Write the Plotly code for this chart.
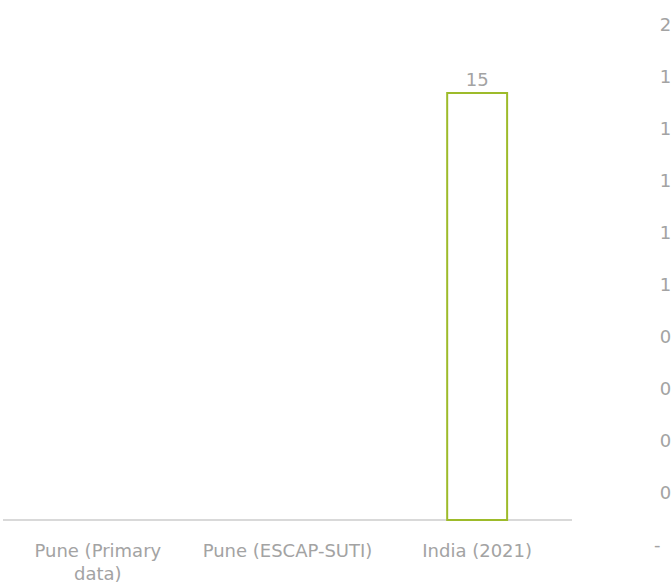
import plotly.graph_objects as go

# Data
categories = ["Pune (Primary<br>data)", "Pune (ESCAP-SUTI)", "India (2021)"]
values = [None, None, 15]
value_labels = ["", "", "15"]

# Secondary (right) axis scale
sec_ticks = [0, 0.2, 0.4, 0.6, 0.8, 1.0, 1.2, 1.4, 1.6, 1.8, 2.0]
sec_ticktext = ["-"] + ["\u00a0" + f"{v:.1f}" for v in sec_ticks[1:]]

FONT = "DejaVu Sans"
GREY = "#a3a3a3"
GREEN = "#9dbb2a"
FS = 18

fig = go.Figure()
fig.add_trace(go.Bar(
    x=categories,
    y=values,
    text=value_labels,
    textposition="outside",
    textfont=dict(family=FONT, size=FS, color=GREY),
    cliponaxis=False,
    marker=dict(color="rgba(255,255,255,0)", line=dict(color=GREEN, width=2)),
    showlegend=False,
))
# invisible trace to carry the right-hand axis
fig.add_trace(go.Scatter(
    x=[categories[0]], y=[0], yaxis="y2", mode="markers",
    marker=dict(opacity=0), showlegend=False, hoverinfo="skip",
))

fig.update_layout(
    width=672, height=584,
    margin=dict(l=3, r=0, t=25, b=39, autoexpand=False),
    paper_bgcolor="white", plot_bgcolor="white",
    bargap=0.684,
    font=dict(family=FONT, size=FS, color=GREY),
    xaxis=dict(
        domain=[0, 0.8505], automargin=False,
        showgrid=False, showline=False, zeroline=False,
        ticks="", ticklabelstandoff=-7,
        tickfont=dict(family=FONT, size=FS, color=GREY),
    ),
    yaxis=dict(
        range=[-0.88, 17.39], automargin=False,
        showgrid=False, showticklabels=False, ticks="",
        zeroline=True, zerolinecolor="#d9d9d9", zerolinewidth=1.5,
    ),
    yaxis2=dict(
        overlaying="y", side="right", anchor="free", position=0.9715,
        range=[0, 2.0], automargin=False,
        tickvals=sec_ticks, ticktext=sec_ticktext,
        showgrid=False, zeroline=False, showline=False, ticks="",
        tickfont=dict(family=FONT, size=FS, color=GREY),
    ),
)

fig.write_html("out.html")
